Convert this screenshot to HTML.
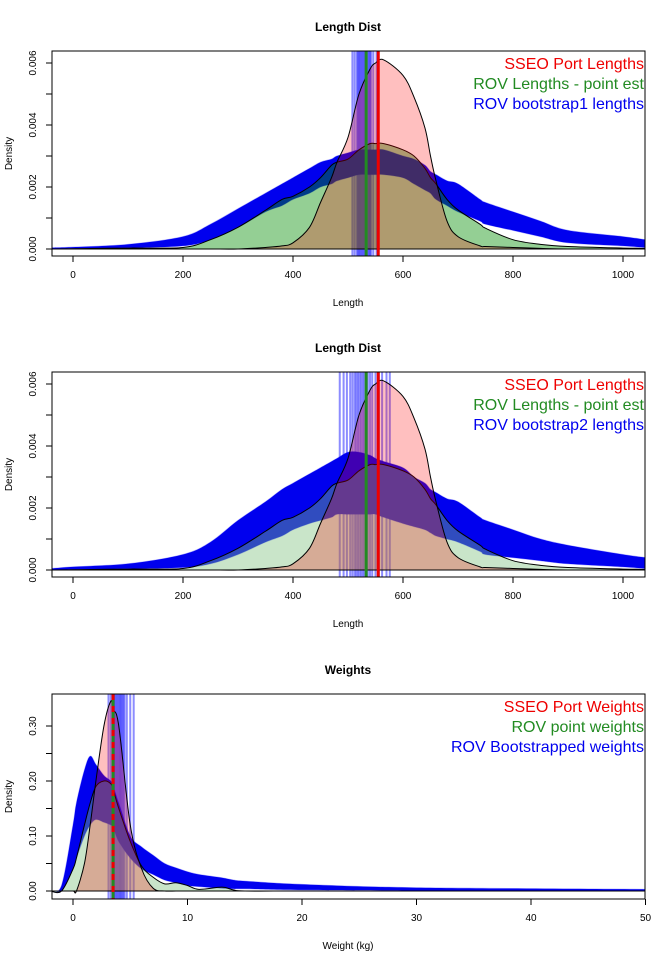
<!DOCTYPE html>
<html><head><meta charset="utf-8"><style>
body{margin:0;background:#fff;}
svg{display:block;font-family:"Liberation Sans",Arial,sans-serif;}
</style></head><body>
<svg id="chart" width="672" height="964" viewBox="0 0 672 964" xmlns="http://www.w3.org/2000/svg"></svg>
<script>
// ---- Length data (panels 1 & 2) ----
const lenX = [-38,0,100,200,250,300,350,380,400,430,450,470,480,500,520,540,550,565,600,620,640,650,660,680,700,740,750,800,850,900,1000,1040];
const portLen = [0,0,0,0,0,0,0.00005,0.0001,0.0002,0.0007,0.0015,0.0023,0.0028,0.0036,0.005,0.0058,0.006,0.0061,0.0056,0.0049,0.0039,0.003,0.0022,0.0009,0.0004,0.0001,0.00008,0.00005,0.00002,0,0,0];
const rovLen = [0,0.00001,0.00003,0.00005,0.0003,0.0007,0.00125,0.0016,0.0017,0.002,0.0023,0.0027,0.0028,0.0029,0.0032,0.0034,0.0034,0.0034,0.0032,0.003,0.0026,0.0023,0.0021,0.0016,0.00126,0.0008,0.00067,0.0003,0.00015,0.00008,0.00003,0.00002];
const boot1Low = [0.00001,0.00002,0.00004,0.0001,0.0003,0.0007,0.0012,0.0014,0.0016,0.0018,0.002,0.0021,0.0022,0.0023,0.0024,0.0024,0.0024,0.0024,0.0023,0.0021,0.0019,0.0018,0.0016,0.0014,0.0012,0.0009,0.0008,0.0006,0.0004,0.0002,0.0001,0.00005];
const boot1High = [0.00004,0.00006,0.00015,0.0004,0.0008,0.0013,0.0018,0.0021,0.0023,0.0026,0.0028,0.0029,0.003,0.0031,0.0032,0.0032,0.0032,0.0032,0.003,0.0029,0.0027,0.0025,0.0024,0.0022,0.0021,0.0016,0.0015,0.0012,0.0009,0.0006,0.0004,0.0003];
const boot2Low = [0.00001,0.00002,0.00004,0.00008,0.0002,0.0005,0.0009,0.0011,0.0013,0.0015,0.0016,0.0017,0.0018,0.0018,0.0018,0.0018,0.0018,0.0017,0.0015,0.0014,0.0013,0.0012,0.0011,0.001,0.0009,0.0006,0.0005,0.0004,0.0003,0.0002,0.0001,0.00005];
const boot2High = [0.00005,0.0001,0.0002,0.0005,0.0009,0.0016,0.0022,0.0026,0.0028,0.0031,0.0033,0.0035,0.0036,0.0038,0.0038,0.0037,0.0036,0.0035,0.0033,0.003,0.0028,0.0026,0.0025,0.0023,0.0022,0.0017,0.0016,0.0013,0.001,0.0008,0.0005,0.0004];
const lenXTicks = [0,200,400,600,800,1000];
const lenYTicks = [0,0.001,0.002,0.003,0.004,0.005,0.006];
const lenYLabels = ["0.000","","0.002","","0.004","","0.006"];
const boot1VLines = [508,512,516,518,520,522,524,526,528,530,532,534,536,538,540,542,546,552];
const boot2VLines = [485,492,498,504,508,512,515,518,521,524,527,530,533,536,540,544,550,556,562,570,576];
const lenPortMean = 555, lenRovMean = 533;
// ---- Weight data (panel 3) ----
const wX = [-2,-1,0,0.3,1,1.5,2,2.7,3.3,3.5,4,5,6,7,8,9,10,11,13,14,15,20,30,50];
const portW = [0,0,0,0,0.05,0.12,0.2,0.3,0.345,0.33,0.3,0.12,0.04,0.005,0,0,0,0,0,0,0,0,0,0];
const rovW = [0,0,0.04,0.06,0.12,0.16,0.19,0.2,0.195,0.185,0.15,0.09,0.045,0.025,0.013,0.015,0.01,0.003,0.007,0.002,0,0,0,0];
const bootWLow = [0,0,0.04,0.06,0.1,0.12,0.13,0.125,0.12,0.115,0.09,0.06,0.04,0.03,0.02,0.015,0.01,0.008,0.005,0.004,0.004,0.002,0.001,0];
const bootWHigh = [0,0.01,0.12,0.16,0.22,0.245,0.23,0.21,0.2,0.19,0.16,0.1,0.08,0.065,0.05,0.042,0.035,0.03,0.024,0.02,0.018,0.012,0.006,0.003];
const wXTicks = [0,10,20,30,40,50];
const wYTicks = [0,0.05,0.1,0.15,0.2,0.25,0.3];
const wYLabels = ["0.00","","0.10","","0.20","","0.30"];
const bootWVLines = [3.1,3.3,3.5,3.6,3.7,3.8,3.9,4.0,4.1,4.2,4.3,4.4,4.5,4.7,5.0,5.3];
const wPortMean = 3.5, wRovMean = 3.5;

const NS="http://www.w3.org/2000/svg";
const svg=document.getElementById('chart');
function mk(tag,attrs,parent){const e=document.createElementNS(NS,tag);for(const k in attrs)e.setAttribute(k,attrs[k]);(parent||svg).appendChild(e);return e;}
function smooth(pts){
  let d='';
  for(let i=0;i<pts.length-1;i++){
    const p0=pts[Math.max(0,i-1)],p1=pts[i],p2=pts[i+1],p3=pts[Math.min(pts.length-1,i+2)];
    const c1=[p1[0]+(p2[0]-p0[0])/6,p1[1]+(p2[1]-p0[1])/6];
    const c2=[p2[0]-(p3[0]-p1[0])/6,p2[1]-(p3[1]-p1[1])/6];
    d+='C'+c1[0]+','+c1[1]+' '+c2[0]+','+c2[1]+' '+p2[0]+','+p2[1];
  }
  return d;
}

function panel(o){
  const g=mk('g',{});
  
  
  const L=52,R=645,T=o.top,B=o.top+205;
  const sx=v=>73+(v-o.x0)*(o.pxPerX);
  const sy=v=>o.y0px-v*o.pxPerY;
  const clip=mk('clipPath',{id:'clip'+o.id},g);mk('rect',{x:L,y:T,width:R-L,height:B-T},clip);
  const pg=mk('g',{'clip-path':'url(#clip'+o.id+')'},g);
  o.vlines.forEach(v=>{const l=mk('line',{x1:sx(v),x2:sx(v),y1:T,y2:B,stroke:'rgba(0,0,255,0.45)','stroke-width':2},pg);
    });
  const hiPts=o.xs.map((x,i)=>[sx(x),sy(o.hi[i])]);
  const loPts=o.xs.map((x,i)=>[sx(x),sy(o.lo[i])]).reverse();
  let d='M'+hiPts[0].join(',')+smooth(hiPts)+'L'+loPts[0].join(',')+smooth(loPts)+'Z';
  const band=mk('path',{d:d,fill:'#0000ee',stroke:'rgba(0,0,255,0.3)','stroke-width':1},pg);
  
  const area=(arr,fill,name)=>{const pts=o.xs.map((x,i)=>[sx(x),sy(arr[i])]);
    const p=mk('path',{d:'M'+pts[0].join(',')+smooth(pts)+'L'+sx(o.xs[o.xs.length-1])+','+sy(0)+'L'+sx(o.xs[0])+','+sy(0)+'Z',fill:fill,stroke:'#000','stroke-width':1},pg);
    };
  area(o.rov,o.greenFill,'rov-density');
  area(o.port,'rgba(255,0,0,0.25)','port-density');
  const gl=mk('line',{x1:sx(o.rovMean),x2:sx(o.rovMean),y1:T,y2:B,stroke:'#228B22','stroke-width':3},pg);
  
  const rl=mk('line',{x1:sx(o.portMean),x2:sx(o.portMean),y1:T,y2:B,stroke:'#ee0000','stroke-width':3,'stroke-dasharray':o.dash?'6,6':''},pg);
  
  const box=mk('rect',{x:L,y:T,width:R-L,height:B-T,fill:'none',stroke:'#000','stroke-width':1},g);
  
  o.xt.forEach(v=>{mk('line',{x1:sx(v),x2:sx(v),y1:B,y2:B+6,stroke:'#000'},g);
    const t=mk('text',{x:sx(v),y:B+22,'font-size':10,'text-anchor':'middle'},g);t.textContent=v;
    });
  o.yt.forEach((v,i)=>{mk('line',{x1:L-6,x2:L,y1:sy(v),y2:sy(v),stroke:'#000'},g);
    if(o.yl[i]){const t=mk('text',{x:36,y:sy(v),'font-size':10,'text-anchor':'middle',transform:'rotate(-90 36 '+sy(v)+')'},g);t.textContent=o.yl[i];
    }});
  const tt=mk('text',{x:348,y:T-20,'font-size':12,'font-weight':'bold','text-anchor':'middle'},g);tt.textContent=o.title;
  
  const xt=mk('text',{x:348,y:B+50,'font-size':10,'text-anchor':'middle'},g);xt.textContent=o.xlab;
  
  const cy=(T+B)/2;
  const yt=mk('text',{x:12,y:cy,'font-size':10,'text-anchor':'middle',transform:'rotate(-90 12 '+cy+')'},g);yt.textContent='Density';
  
  const cols=['#ee0000','#228B22','#0000ee'];
  o.legend.forEach((s,i)=>{const t=mk('text',{x:644,y:T+18+i*20,'font-size':16,'text-anchor':'end',fill:cols[i]},g);t.textContent=s;
    });
}
panel({id:1,name:'length-panel-bootstrap1',top:51,x0:0,pxPerX:0.55,y0px:249,pxPerY:31000,xs:lenX,port:portLen,rov:rovLen,lo:boot1Low,hi:boot1High,
  vlines:boot1VLines,portMean:lenPortMean,rovMean:lenRovMean,greenFill:'rgba(0,140,0,0.42)',xt:lenXTicks,yt:lenYTicks,yl:lenYLabels,
  title:'Length Dist',xlab:'Length',legend:['SSEO Port Lengths','ROV Lengths - point est','ROV bootstrap1 lengths']});
panel({id:2,name:'length-panel-bootstrap2',top:372,x0:0,pxPerX:0.55,y0px:570,pxPerY:31000,xs:lenX,port:portLen,rov:rovLen,lo:boot2Low,hi:boot2High,
  vlines:boot2VLines,portMean:lenPortMean,rovMean:lenRovMean,greenFill:'rgba(120,190,120,0.4)',xt:lenXTicks,yt:lenYTicks,yl:lenYLabels,
  title:'Length Dist',xlab:'Length',legend:['SSEO Port Lengths','ROV Lengths - point est','ROV bootstrap2 lengths']});
panel({id:3,name:'weights-panel',top:694,x0:0,pxPerX:11.45,y0px:891,pxPerY:550,xs:wX,port:portW,rov:rovW,lo:bootWLow,hi:bootWHigh,dash:true,
  vlines:bootWVLines,portMean:wPortMean,rovMean:wRovMean,greenFill:'rgba(120,190,120,0.4)',xt:wXTicks,yt:wYTicks,yl:wYLabels,
  title:'Weights',xlab:'Weight (kg)',legend:['SSEO Port Weights','ROV point weights','ROV Bootstrapped weights']});
</script>
</body></html>
